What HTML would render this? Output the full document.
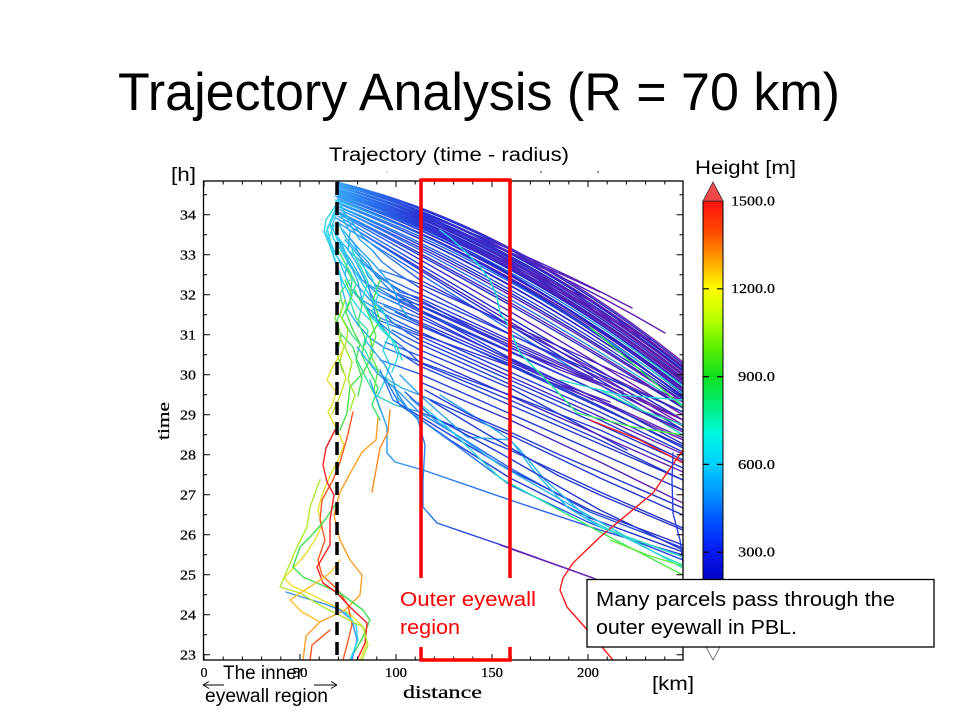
<!DOCTYPE html>
<html><head><meta charset="utf-8"><style>
html,body{margin:0;padding:0;background:#fff;}
svg{display:block;}
</style></head><body>
<svg width="960" height="720" viewBox="0 0 960 720" xmlns="http://www.w3.org/2000/svg">
<defs>
<clipPath id="pc"><rect x="204" y="181" width="479" height="479"/></clipPath>
<linearGradient id="gA" gradientUnits="userSpaceOnUse" x1="335" y1="0" x2="683" y2="0">
<stop offset="0" stop-color="#3aaaf5"/><stop offset="0.1" stop-color="#2a78f0"/><stop offset="0.25" stop-color="#2238d8"/><stop offset="0.5" stop-color="#1e26c4"/><stop offset="1" stop-color="#2a22b8"/></linearGradient>
<linearGradient id="gB" gradientUnits="userSpaceOnUse" x1="335" y1="0" x2="683" y2="0">
<stop offset="0" stop-color="#3aaaf5"/><stop offset="0.1" stop-color="#2a70ee"/><stop offset="0.25" stop-color="#2e30d0"/><stop offset="0.5" stop-color="#4a24c0"/><stop offset="1" stop-color="#6a1eaa"/></linearGradient>
<linearGradient id="gC" gradientUnits="userSpaceOnUse" x1="335" y1="0" x2="683" y2="0">
<stop offset="0" stop-color="#3aaaf5"/><stop offset="0.2" stop-color="#2a60ee"/><stop offset="0.6" stop-color="#2a70ee"/><stop offset="1" stop-color="#30dcc0"/></linearGradient>
<linearGradient id="gD" gradientUnits="userSpaceOnUse" x1="335" y1="0" x2="683" y2="0">
<stop offset="0" stop-color="#40d8f0"/><stop offset="0.12" stop-color="#2a90f0"/><stop offset="0.35" stop-color="#2440dc"/><stop offset="1" stop-color="#2a2cc0"/></linearGradient>
<linearGradient id="gWb" gradientUnits="userSpaceOnUse" x1="325" y1="0" x2="683" y2="0">
<stop offset="0" stop-color="#38d8ee"/><stop offset="0.14" stop-color="#2a90f0"/><stop offset="0.28" stop-color="#2444dc"/><stop offset="1" stop-color="#2430c4"/></linearGradient>
<linearGradient id="gWp" gradientUnits="userSpaceOnUse" x1="325" y1="0" x2="683" y2="0">
<stop offset="0" stop-color="#38d8ee"/><stop offset="0.14" stop-color="#2a90f0"/><stop offset="0.3" stop-color="#2a3cd8"/><stop offset="0.55" stop-color="#3a2ccc"/><stop offset="1" stop-color="#6a20ae"/></linearGradient>
<linearGradient id="gGb" gradientUnits="userSpaceOnUse" x1="325" y1="0" x2="683" y2="0">
<stop offset="0" stop-color="#50e850"/><stop offset="0.12" stop-color="#40e0a0"/><stop offset="0.22" stop-color="#30b0f0"/><stop offset="0.32" stop-color="#2448e0"/><stop offset="1" stop-color="#2630c8"/></linearGradient>
<linearGradient id="gLb" gradientUnits="userSpaceOnUse" x1="330" y1="0" x2="683" y2="0">
<stop offset="0" stop-color="#30c0f0"/><stop offset="0.3" stop-color="#2a80f0"/><stop offset="1" stop-color="#2a40d8"/></linearGradient>
<linearGradient id="gLp" gradientUnits="userSpaceOnUse" x1="330" y1="0" x2="683" y2="0">
<stop offset="0" stop-color="#30c0f0"/><stop offset="0.25" stop-color="#2a90f0"/><stop offset="0.35" stop-color="#2448e0"/><stop offset="0.6" stop-color="#3a30d0"/><stop offset="1" stop-color="#6a22b0"/></linearGradient>
<linearGradient id="gR1" gradientUnits="userSpaceOnUse" x1="440" y1="0" x2="683" y2="0">
<stop offset="0" stop-color="#30c8f0"/><stop offset="0.35" stop-color="#20e0c0"/><stop offset="0.6" stop-color="#40e860"/><stop offset="1" stop-color="#50e840"/></linearGradient>
<linearGradient id="gCy" gradientUnits="userSpaceOnUse" x1="420" y1="0" x2="683" y2="0">
<stop offset="0" stop-color="#30a0f0"/><stop offset="0.6" stop-color="#30b8f0"/><stop offset="1" stop-color="#30e0d0"/></linearGradient>
<linearGradient id="cb" gradientUnits="userSpaceOnUse" x1="0" y1="201" x2="0" y2="640">
<stop offset="0" stop-color="#ff1010"/><stop offset="0.07" stop-color="#ff4a00"/><stop offset="0.13" stop-color="#ff9a00"/><stop offset="0.2" stop-color="#ffff00"/><stop offset="0.27" stop-color="#b8ff00"/><stop offset="0.33" stop-color="#60f000"/><stop offset="0.4" stop-color="#10e020"/><stop offset="0.47" stop-color="#00f080"/><stop offset="0.53" stop-color="#00f8e0"/><stop offset="0.6" stop-color="#00d0ff"/><stop offset="0.67" stop-color="#0090ff"/><stop offset="0.73" stop-color="#0050ff"/><stop offset="0.8" stop-color="#0818f0"/><stop offset="0.87" stop-color="#0000c0"/><stop offset="1" stop-color="#000080"/></linearGradient>
</defs>

<!-- Titles -->
<text x="118" y="110" font-family="Liberation Sans, sans-serif" font-size="53" textLength="722" lengthAdjust="spacingAndGlyphs" fill="#000">Trajectory Analysis (R = 70 km)</text>
<text x="329" y="161" font-family="Liberation Sans, sans-serif" font-size="19" textLength="240" lengthAdjust="spacingAndGlyphs" fill="#000">Trajectory (time - radius)</text>
<text x="171" y="181" font-family="Liberation Sans, sans-serif" font-size="19" textLength="25" lengthAdjust="spacingAndGlyphs" fill="#000">[h]</text>
<text x="695" y="174" font-family="Liberation Sans, sans-serif" font-size="19" textLength="101" lengthAdjust="spacingAndGlyphs" fill="#000">Height [m]</text>

<circle cx="387" cy="172" r="1" fill="#ccc"/><circle cx="541" cy="172" r="1.2" fill="#999"/><circle cx="598" cy="172" r="1.2" fill="#999"/>

<!-- Trajectories -->
<g clip-path="url(#pc)" fill="none" stroke-width="1.4" stroke-linejoin="round" stroke-linecap="round">
<!-- top bundle -->
<path d="M337,182 Q510,224 683,362" stroke="url(#gB)"/>
<path d="M338,183 Q510,226 683,364" stroke="url(#gA)"/>
<path d="M337,183 Q505,228 683,367" stroke="url(#gB)"/>
<path d="M336,184 Q510,229 683,366" stroke="url(#gB)"/>
<path d="M338,185 Q510,231 683,368" stroke="url(#gA)"/>
<path d="M337,186 Q510,234 683,370" stroke="url(#gA)"/>
<path d="M338,187 Q510,238 683,371" stroke="url(#gA)"/>
<path d="M339,187 Q510,236 683,372" stroke="url(#gB)"/>
<path d="M336,188 Q510,239 683,374" stroke="url(#gA)"/>
<path d="M337,189 Q510,240 683,375" stroke="url(#gB)"/>
<path d="M338,190 Q510,241 683,376" stroke="url(#gB)"/>
<path d="M337,191 Q510,243 683,378" stroke="url(#gA)"/>
<path d="M336,191 Q505,246 683,381" stroke="url(#gB)"/>
<path d="M340,192 Q510,246 683,380" stroke="url(#gA)"/>
<path d="M339,193 Q510,249 683,385" stroke="url(#gA)"/>
<path d="M336,194 Q510,248 683,382" stroke="url(#gB)"/>
<path d="M338,195 Q510,250 683,384" stroke="url(#gA)"/>
<path d="M335,196 Q510,253 683,386" stroke="url(#gC)"/>
<path d="M337,197 Q510,258 683,389" stroke="url(#gB)"/>
<path d="M339,198 Q510,257 683,388" stroke="url(#gA)"/>
<path d="M338,199 Q510,262 683,394" stroke="url(#gA)"/>
<path d="M337,200 Q510,261 683,390" stroke="url(#gB)"/>
<path d="M336,202 Q510,266 683,393" stroke="url(#gC)"/>
<path d="M336,203 Q510,270 683,397" stroke="url(#gB)"/>
<path d="M340,204 Q510,272 683,396" stroke="url(#gA)"/>
<path d="M338,206 Q510,277 683,399" stroke="url(#gD)"/>
<path d="M339,207 Q510,282 683,401" stroke="url(#gA)"/>
<path d="M336,208 Q510,285 683,402" stroke="url(#gB)"/>
<path d="M341,210 Q510,292 683,405" stroke="url(#gC)"/>
<path d="M337,211 Q510,296 683,407" stroke="url(#gB)"/>
<path d="M337,212 Q510,300 683,408" stroke="url(#gA)"/>
<path d="M335,200 Q510,261 683,398" stroke="url(#gD)"/>
<path d="M339,214 Q510,309 683,415" stroke="url(#gB)"/>
<path d="M338,216 Q510,318 683,420" stroke="url(#gA)"/>
<path d="M336,218 Q510,322 683,425" stroke="url(#gB)"/>
<path d="M340,220 Q510,327 683,430" stroke="url(#gA)"/>
<path d="M337,222 Q510,331 683,435" stroke="url(#gC)"/>
<path d="M337,186 Q480,228 632,308" stroke="url(#gB)"/>
<path d="M337,190 Q500,236 665,333" stroke="url(#gB)"/>
<path d="M338,195 Q470,230 600,292" stroke="url(#gB)"/>
<path d="M337,197 Q470,240 593,302" stroke="url(#gB)"/>
<path d="M337,192 Q490,246 650,340" stroke="url(#gB)"/>
<path d="M338,196 Q490,250 640,336" stroke="url(#gB)"/>
<path d="M338,189 Q495,240 683,379" stroke="url(#gB)"/>
<path d="M336,193 Q505,252 683,392" stroke="url(#gA)"/>
<!-- middle bundle (wiggly start) -->
<path d="M337,205 L330,222 L333,238 L342,252 L350,266 L362,280 L380,292 L400,302 L420,312 L510,352 L600,392 L683,432" stroke="url(#gWp)"/>
<path d="M336,212 L327,228 L331,244 L338,258 L345,275 L352,290 L362,300 L378,310 L395,320 L420,332 L510,372 L600,412 L683,452" stroke="url(#gWb)"/>
<path d="M339,200 L345,215 L352,228 L360,240 L372,250 L382,262 L398,274 L420,288 L510,334 L600,378 L683,420" stroke="url(#gWp)"/>
<path d="M341,215 L350,232 L348,250 L356,262 L365,280 L372,296 L380,310 L392,322 L408,333 L420,340 L510,380 L600,420 L683,460" stroke="url(#gWb)"/>
<path d="M334,225 L328,240 L334,258 L340,275 L343,292 L348,310 L358,325 L370,338 L385,348 L420,362 L510,395 L600,430 L683,468" stroke="url(#gWb)"/>
<path d="M343,230 L355,245 L362,262 L368,276 L378,288 L395,298 L420,305 L510,345 L600,385 L683,426" stroke="url(#gWp)"/>
<path d="M340,240 L348,258 L345,275 L352,290 L364,305 L380,318 L400,326 L420,334 L510,366 L600,402 L683,440" stroke="url(#gWp)"/>
<path d="M338,222 L346,238 L356,250 L368,262 L376,276 L390,290 L405,300 L420,310 L510,358 L600,400 L683,444" stroke="url(#gWb)"/>
<path d="M336,232 L342,248 L350,264 L358,282 L362,300 L372,316 L388,330 L405,342 L420,350 L510,388 L627,450" stroke="url(#gWb)"/>
<path d="M345,240 L358,255 L370,268 L385,280 L400,292 L420,298 L510,340 L593,378" stroke="url(#gWp)"/>
<path d="M340,245 L352,262 L362,280 L380,296 L400,305 L420,315 L510,360 L593,400" stroke="url(#gWp)"/>
<path d="M338,238 L350,252 L365,265 L380,278 L400,290 L420,300 L510,348 L623,392" stroke="url(#gWp)"/>
<path d="M333,218 L326,232 L332,250 L344,266 L356,284 L370,300 L388,312 L420,326 L510,364 L600,406 L683,448" stroke="url(#gWb)"/>
<path d="M342,210 L352,222 L362,236 L374,246 L390,258 L420,280 L510,326 L600,372 L683,412" stroke="url(#gWp)"/>
<!-- extra middle straight lines -->
<path d="M380,270 L420,284 L683,402" stroke="url(#gWp)"/>
<path d="M386,278 L420,294 L683,412" stroke="url(#gWb)"/>
<path d="M375,285 L420,302 L683,420" stroke="url(#gWp)"/>
<path d="M390,296 L420,310 L683,430" stroke="url(#gWb)"/>
<path d="M372,300 L420,318 L683,438" stroke="url(#gWp)"/>
<path d="M395,312 L420,324 L683,446" stroke="url(#gWb)"/>
<path d="M378,320 L420,336 L683,454" stroke="url(#gWp)"/>
<path d="M392,330 L420,344 L683,462" stroke="url(#gWb)"/>
<path d="M385,342 L420,356 L683,472" stroke="url(#gWp)"/>
<path d="M398,352 L420,366 L683,480" stroke="url(#gWb)"/>
<path d="M380,360 L420,374 L683,490" stroke="url(#gWb)"/>
<path d="M388,290 L420,306 L560,370 L600,385" stroke="url(#gWp)"/>
<path d="M384,306 L420,322 L560,384 L610,402" stroke="url(#gWp)"/>
<!-- green-start lines -->
<path d="M338,250 L346,265 L352,280 L350,300 L342,318 L352,335 L365,350 L372,365 L385,378 L402,388 L420,395 L510,435 L600,478 L683,515" stroke="url(#gGb)"/>
<path d="M350,280 L340,293 L343,307 L337,320 L340,333 L353,347 L357,360 L367,380 L375,395 L395,405 L420,412 L510,450 L600,492 L683,528" stroke="url(#gGb)"/>
<path d="M380,280 L373,300 L380,320 L370,337 L373,353 L363,373 L350,387 L347,413 L340,430" stroke="#48e048"/>
<path d="M367,280 L377,320 L390,337 L410,353 L420,363 L510,400 L600,440 L683,480" stroke="url(#gWb)"/>
<path d="M355,290 L362,305 L358,322 L365,338 L362,355 L370,372 L378,388 L372,405 L380,420" stroke="#40e070"/>
<path d="M372,300 L385,315 L390,332 L383,350 L390,365 L385,380 L378,395" stroke="#30d0e0"/>
<path d="M345,300 L340,315 L348,330 L345,348 L352,362 L348,380 L355,395 L350,410" stroke="#a0e830"/>
<path d="M360,262 L372,278 L378,295 L372,312 L380,328 L392,340 L398,356 L392,372" stroke="#30d8e0"/>
<path d="M348,268 L356,284 L350,300 L356,318 L368,330 L365,345" stroke="#40e0a0"/>
<!-- extra wiggles -->
<path d="M336,205 L326,220 L324,232 L330,246 L336,262 L342,280 L350,296 L360,310 L372,322" stroke="#30d0ee"/>
<path d="M338,210 L332,226 L338,242 L346,256 L354,270 L364,286 L372,300 L384,312" stroke="#38c8f0"/>
<path d="M345,280 L352,296 L346,312 L352,328 L360,344 L356,360 L362,378 L358,396" stroke="#50e060"/>
<path d="M362,300 L370,318 L376,336 L370,354 L378,370 L374,390 L380,410" stroke="#60e850"/>
<path d="M352,250 L360,266 L368,282 L362,300 L370,316 L384,330 L396,344 L402,360" stroke="#30e0c0"/>
<path d="M348,236 L360,250 L372,262 L384,276 L394,290 L400,306 L410,320" stroke="#2aa0f0"/>
<path d="M336,330 L344,346 L340,362 L346,378 L340,396 L332,414" stroke="#c0e030"/>
<path d="M340,300 L335,318 L341,336 L337,354 L343,372" stroke="#80e040"/>
<!-- light blue descending lines -->
<path d="M357,347 L377,373 L400,393 L420,413 L465,440 L510,468 L590,512 L683,548" stroke="url(#gLb)"/>
<path d="M365,340 L385,365 L393,380 L398,398 L418,420 L425,445 L423,480 L423,507 L437,523 L510,548 L593,578 L620,590" stroke="url(#gLp)"/>
<path d="M370,380 L377,400 L387,427 L387,453 L395,462 L423,470 L510,500 L600,530 L683,555" stroke="url(#gLb)"/>
<path d="M380,370 L393,400 L447,433 L510,470 L590,510 L683,545" stroke="url(#gWb)"/>
<path d="M385,378 L400,405 L450,440 L510,478 L590,518 L683,552" stroke="url(#gWb)"/>
<path d="M392,385 L410,412 L460,448 L510,485 L590,523 L683,560" stroke="url(#gLb)"/>
<path d="M400,375 L423,398 L467,437 L510,440 L520,450 L545,480 L590,520 L660,555 L683,565" stroke="url(#gCy)"/>
<path d="M420,382 L510,420 L600,462 L683,503" stroke="url(#gWp)"/>
<path d="M440,395 L480,420 L500,433 L513,443 L533,470 L567,507 L600,527 L683,557" stroke="url(#gCy)"/>
<path d="M405,392 L430,415 L500,453 L600,510 L683,550" stroke="url(#gWb)"/>
<path d="M410,398 L435,420 L500,465 L600,522 L683,568" stroke="url(#gCy)"/>
<path d="M418,402 L445,425 L500,478 L600,532 L683,575" stroke="url(#gR1)"/>
<path d="M425,390 L470,415 L510,432 L560,455 L600,472 L683,508" stroke="url(#gWb)"/>
<path d="M430,400 L480,430 L557,475 L600,495 L683,530" stroke="url(#gWb)"/>
<!-- right side colored lines -->
<path d="M440,230 L453,240 L477,263 L490,280 L497,297 L500,313 L507,323 L520,353 L553,387 L577,413 L633,427 L683,435" stroke="url(#gR1)"/>
<path d="M590,327 L640,370 L683,407" stroke="#40e060"/>
<path d="M600,390 L640,410 L683,425" stroke="#30e0b0"/>
<path d="M560,380 L620,395 L683,400" stroke="#30d8d0"/>
<path d="M590,420 L640,440 L683,463" stroke="#ff2020"/>
<path d="M683,450 L653,493 L600,537 L573,563 L563,578 L560,590 L567,607 L590,633 L613,660" stroke="#ff1818"/>
<path d="M673,453 L672,480 L673,513 L680,540 L683,563" stroke="#2a40e0"/>
<path d="M600,527 L650,545 L683,557" stroke="#30e0c0"/>
<path d="M610,540 L650,556 L683,566" stroke="#60e840"/>
<path d="M500,545 L593,578" stroke="#6a22b0"/>
<!-- bottom-left tangle -->
<path d="M343,350 L332,368 L327,380 L336,392 L333,403 L328,412 L336,428 L344,445 L338,460 L330,476 L322,495 L318,510 L322,525 L315,540 L305,555 L295,566 L284,578 L292,586 L306,592 L330,604 L350,614 L364,628 L366,645 L360,660" stroke="#e8e030"/>
<path d="M353,412 L347,438 L340,462 L333,480 L322,500 L320,520 L325,540 L318,560 L322,575 L338,590 L348,605 L352,625 L347,645 L343,660" stroke="#ff5a20"/>
<path d="M378,418 L376,440 L362,452 L352,470 L340,492 L334,515 L340,540 L350,560 L362,575 L360,595 L345,610 L320,622 L306,636 L303,660" stroke="#ffa028"/>
<path d="M335,505 L325,520 L312,535 L300,547 L293,567 L303,577 L340,593 L363,610 L370,620 L363,637 L350,660" stroke="#40e050"/>
<path d="M286,592 L305,598 L325,604 L340,610 L352,620 L357,640 L352,660" stroke="#3a90f0"/>
<path d="M345,612 L356,625 L358,640 L350,660" stroke="#30d8f0"/>
<path d="M335,430 L326,448 L323,465 L327,482 L334,495 L330,520 L330,545 L317,567 L323,583 L337,593 L350,607 L367,623 L365,643 L357,660" stroke="#ff2020"/>
<path d="M320,480 L310,507 L307,527 L297,547 L280,587 L300,593 L323,607 L343,617 L363,627 L368,645 L362,660" stroke="#b0e830"/>
<path d="M330,630 L312,645 L310,660" stroke="#ff5020"/>
<path d="M340,560 L330,573 L313,585 L300,593 L290,600 L302,612 L320,622" stroke="#ffc030"/>
<path d="M390,410 L388,432 L380,448 L376,470 L372,492" stroke="#ff8a20"/>
</g>

<!-- Frame and ticks -->
<rect x="203.5" y="181" width="479.5" height="479" fill="none" stroke="#000" stroke-width="1.3"/>
<path fill="none" stroke="#000" stroke-width="1" d="
M203.5,214.7h6.5M203.5,254.7h6.5M203.5,294.7h6.5M203.5,334.7h6.5M203.5,374.7h6.5M203.5,414.7h6.5M203.5,454.7h6.5M203.5,494.7h6.5M203.5,534.7h6.5M203.5,574.7h6.5M203.5,614.7h6.5M203.5,654.7h6.5
M203.5,194.7h3.5M203.5,234.7h3.5M203.5,274.7h3.5M203.5,314.7h3.5M203.5,354.7h3.5M203.5,394.7h3.5M203.5,434.7h3.5M203.5,474.7h3.5M203.5,514.7h3.5M203.5,554.7h3.5M203.5,594.7h3.5M203.5,634.7h3.5
M683,214.7h-6.5M683,254.7h-6.5M683,294.7h-6.5M683,334.7h-6.5M683,374.7h-6.5M683,414.7h-6.5M683,454.7h-6.5M683,494.7h-6.5M683,534.7h-6.5M683,574.7h-6.5M683,614.7h-6.5M683,654.7h-6.5
M683,194.7h-3.5M683,234.7h-3.5M683,274.7h-3.5M683,314.7h-3.5M683,354.7h-3.5M683,394.7h-3.5M683,434.7h-3.5M683,474.7h-3.5M683,514.7h-3.5M683,554.7h-3.5M683,594.7h-3.5M683,634.7h-3.5
M204,181v6M300,181v6M396,181v6M492,181v6M588,181v6
M223.2,181v3.5M242.4,181v3.5M261.6,181v3.5M280.8,181v3.5M319.2,181v3.5M338.4,181v3.5M357.6,181v3.5M376.8,181v3.5M415.2,181v3.5M434.4,181v3.5M453.6,181v3.5M472.8,181v3.5M511.2,181v3.5M530.4,181v3.5M549.6,181v3.5M568.8,181v3.5M607.2,181v3.5M626.4,181v3.5M645.6,181v3.5M664.8,181v3.5
M204,660v-6M300,660v-6M396,660v-6M492,660v-6M588,660v-6
M223.2,660v-3.5M242.4,660v-3.5M261.6,660v-3.5M280.8,660v-3.5M319.2,660v-3.5M338.4,660v-3.5M357.6,660v-3.5M376.8,660v-3.5M415.2,660v-3.5M434.4,660v-3.5M453.6,660v-3.5M472.8,660v-3.5M511.2,660v-3.5M530.4,660v-3.5M549.6,660v-3.5M568.8,660v-3.5M607.2,660v-3.5M626.4,660v-3.5M645.6,660v-3.5M664.8,660v-3.5"/>

<!-- Y tick labels -->
<g font-family="Liberation Serif, serif" font-size="14" fill="#000" stroke="#000" stroke-width="0.25" text-anchor="end">
<text x="196" y="219.5" textLength="16" lengthAdjust="spacingAndGlyphs">34</text>
<text x="196" y="259.5" textLength="16" lengthAdjust="spacingAndGlyphs">33</text>
<text x="196" y="299.5" textLength="16" lengthAdjust="spacingAndGlyphs">32</text>
<text x="196" y="339.5" textLength="16" lengthAdjust="spacingAndGlyphs">31</text>
<text x="196" y="379.5" textLength="16" lengthAdjust="spacingAndGlyphs">30</text>
<text x="196" y="419.5" textLength="16" lengthAdjust="spacingAndGlyphs">29</text>
<text x="196" y="459.5" textLength="16" lengthAdjust="spacingAndGlyphs">28</text>
<text x="196" y="499.5" textLength="16" lengthAdjust="spacingAndGlyphs">27</text>
<text x="196" y="539.5" textLength="16" lengthAdjust="spacingAndGlyphs">26</text>
<text x="196" y="579.5" textLength="16" lengthAdjust="spacingAndGlyphs">25</text>
<text x="196" y="619.5" textLength="16" lengthAdjust="spacingAndGlyphs">24</text>
<text x="196" y="659.5" textLength="16" lengthAdjust="spacingAndGlyphs">23</text>
</g>
<!-- X tick labels -->
<g font-family="Liberation Serif, serif" font-size="14" fill="#000" stroke="#000" stroke-width="0.25" text-anchor="middle">
<text x="204" y="677">0</text>
<text x="300" y="677" textLength="15" lengthAdjust="spacingAndGlyphs">50</text>
<text x="396" y="677" textLength="22" lengthAdjust="spacingAndGlyphs">100</text>
<text x="492" y="677" textLength="22" lengthAdjust="spacingAndGlyphs">150</text>
<text x="588" y="677" textLength="22" lengthAdjust="spacingAndGlyphs">200</text>
</g>
<text transform="translate(169,421) rotate(-90)" text-anchor="middle" font-family="Liberation Serif, serif" font-size="17" stroke="#000" stroke-width="0.25" textLength="38" lengthAdjust="spacingAndGlyphs" fill="#000">time</text>
<text x="403" y="698" font-family="Liberation Serif, serif" font-size="18" stroke="#000" stroke-width="0.25" textLength="79" lengthAdjust="spacingAndGlyphs" fill="#000">distance</text>
<text x="652" y="690" font-family="Liberation Sans, sans-serif" font-size="19" textLength="42" lengthAdjust="spacingAndGlyphs" fill="#000">[km]</text>

<!-- Inner eyewall annotation -->
<text x="223" y="679" font-family="Liberation Sans, sans-serif" font-size="19" textLength="80" lengthAdjust="spacingAndGlyphs" fill="#000">The inner</text>
<text x="205" y="702" font-family="Liberation Sans, sans-serif" font-size="19" textLength="123" lengthAdjust="spacingAndGlyphs" fill="#000">eyewall region</text>
<path d="M203,685 H224 M203,685 l6,-3.5 M203,685 l6,3.5 M314,685 H337 M337,685 l-6,-3.5 M337,685 l-6,3.5" fill="none" stroke="#000" stroke-width="1"/>

<!-- dashed r=70 line -->
<line x1="337" y1="182" x2="337" y2="660" stroke="#000" stroke-width="3.5" stroke-dasharray="13 7"/>

<!-- Red outer eyewall box -->
<g stroke="#ff0000" stroke-width="3.5" fill="none">
<path d="M421,180 H510"/>
<path d="M421,178.5 V578 M510,178.5 V578"/>
<path d="M421,647 V661.5 M510,647 V661.5 M419.5,660 H511.5"/>
</g>
<text x="400" y="606" font-family="Liberation Sans, sans-serif" font-size="20" textLength="136" lengthAdjust="spacingAndGlyphs" fill="#ff0000">Outer eyewall</text>
<text x="400" y="634" font-family="Liberation Sans, sans-serif" font-size="20" textLength="60" lengthAdjust="spacingAndGlyphs" fill="#ff0000">region</text>

<!-- Colorbar -->
<rect x="703" y="201" width="20" height="439" fill="url(#cb)" stroke="#000" stroke-width="1"/>
<polygon points="703,201 723,201 713,182" fill="#f04848" stroke="#333" stroke-width="0.8"/>
<polygon points="703,641 723,641 713,660" fill="#fff" stroke="#555" stroke-width="0.8"/>
<g stroke="#000" stroke-width="1.2">
<path d="M703,288.8h6M717,288.8h6M703,376.6h6M717,376.6h6M703,464.4h6M717,464.4h6M703,552.2h6M717,552.2h6"/>
</g>
<g font-family="Liberation Serif, serif" font-size="13.5" fill="#000" stroke="#000" stroke-width="0.25" text-anchor="end">
<text x="775" y="205.5" textLength="44" lengthAdjust="spacingAndGlyphs">1500.0</text>
<text x="775" y="293.2" textLength="44" lengthAdjust="spacingAndGlyphs">1200.0</text>
<text x="775" y="381" textLength="37" lengthAdjust="spacingAndGlyphs">900.0</text>
<text x="775" y="468.8" textLength="37" lengthAdjust="spacingAndGlyphs">600.0</text>
<text x="775" y="556.6" textLength="37" lengthAdjust="spacingAndGlyphs">300.0</text>
</g>

<!-- Annotation box -->
<rect x="587" y="579.5" width="347" height="67.5" fill="#fff" stroke="#000" stroke-width="1.3"/>
<text x="596" y="606" font-family="Liberation Sans, sans-serif" font-size="20" textLength="299" lengthAdjust="spacingAndGlyphs" fill="#000">Many parcels pass through the</text>
<text x="596" y="634" font-family="Liberation Sans, sans-serif" font-size="20" textLength="201" lengthAdjust="spacingAndGlyphs" fill="#000">outer eyewall in PBL.</text>
</svg>
</body></html>
